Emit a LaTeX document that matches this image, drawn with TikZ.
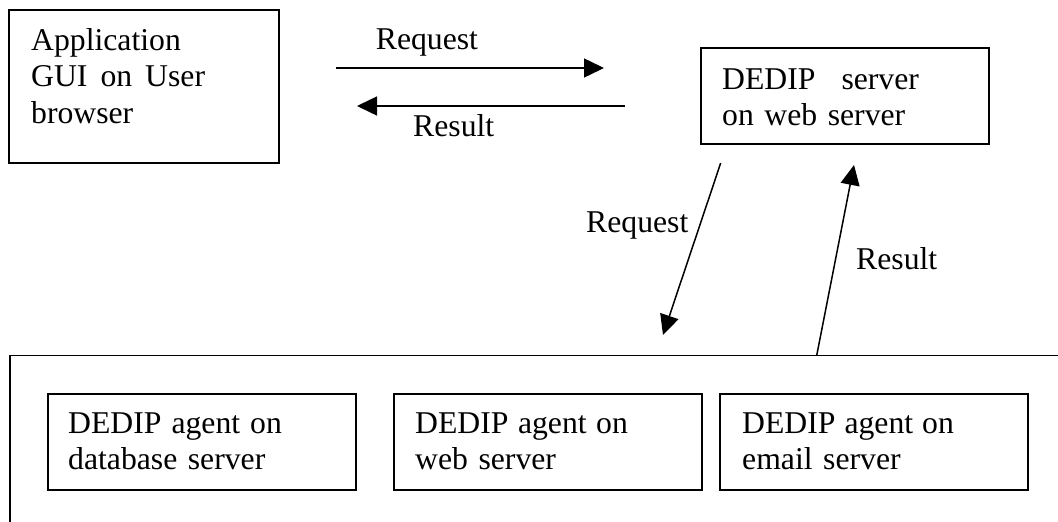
\documentclass[tikz,border=0pt]{standalone}
\usepackage{fontspec}
\setmainfont{Liberation Serif}
\usetikzlibrary{arrows.meta}
\begin{document}
\begin{tikzpicture}[x=1pt,y=-1pt,
  box/.style={draw=black, line width=1.5pt, inner sep=0pt, rectangle},
  txt/.style={anchor=base west, inner sep=0pt, align=left, text width=260pt,
    font=\fontsize{31.7}{36.5}\selectfont},
  lbl/.style={anchor=base west, inner sep=0pt, font=\fontsize{31.7}{36.5}\selectfont},
  arr/.style={line width=1.5pt, -{Triangle[length=20pt,width=19pt]}}]
\useasboundingbox (0,0) rectangle (1058,522);
\clip (0,0) rectangle (1058,522);
\fill[white] (0,0) rectangle (1058,522);
% boxes
\node[box, minimum width=270pt, minimum height=153pt] (app) at (144,86.5) {};
\node[box, minimum width=288pt, minimum height=96pt] (srv) at (845,96) {};
\node[box, minimum width=1070pt, minimum height=205pt] (sys) at (545,458) {};
\node[box, minimum width=308pt, minimum height=96pt] (agA) at (202,442) {};
\node[box, minimum width=308pt, minimum height=96pt] (agB) at (548,442) {};
\node[box, minimum width=308pt, minimum height=96pt] (agC) at (874,442) {};
% texts
\node[txt] (appT) at (31,50) {Application\\GUI\hspace{13pt}on\hspace{13pt}User\\browser};
\node[txt] (srvT) at (722,89) {DEDIP\hspace{26pt}server\\on web server};
\node[txt] (agAT) at (68,433) {DEDIP\hspace{10pt}agent\hspace{10pt}on\\database server};
\node[txt] (agBT) at (415,433) {DEDIP\hspace{9.5pt}agent\hspace{9.5pt}on\\web server};
\node[txt] (agCT) at (742,433) {DEDIP\hspace{9pt}agent\hspace{9pt}on\\email server};
% arrow end points
\coordinate (rq1s) at (336,68);
\coordinate (rq1e) at (604,68);
\coordinate (rs1s) at (625,106);
\coordinate (rs1e) at (357,106);
\coordinate (rq2s) at (720.7,163);
\coordinate (rq2e) at (663,335);
\coordinate (rs2s) at (816.7,355.5);
\coordinate (rs2e) at (854,165);
\draw[arr] (rq1s) -- (rq1e);
\draw[arr] (rs1s) -- (rs1e);
\draw[arr] (rq2s) -- (rq2e);
\draw[arr] (rs2s) -- (rs2e);
% labels
\node[lbl] (lrq1) at (375.7,49) {Request};
\node[lbl] (lrs1) at (413,136) {Result};
\node[lbl] (lrq2) at (586,232) {Request};
\node[lbl] (lrs2) at (856,269) {Result};
\end{tikzpicture}
\end{document}
